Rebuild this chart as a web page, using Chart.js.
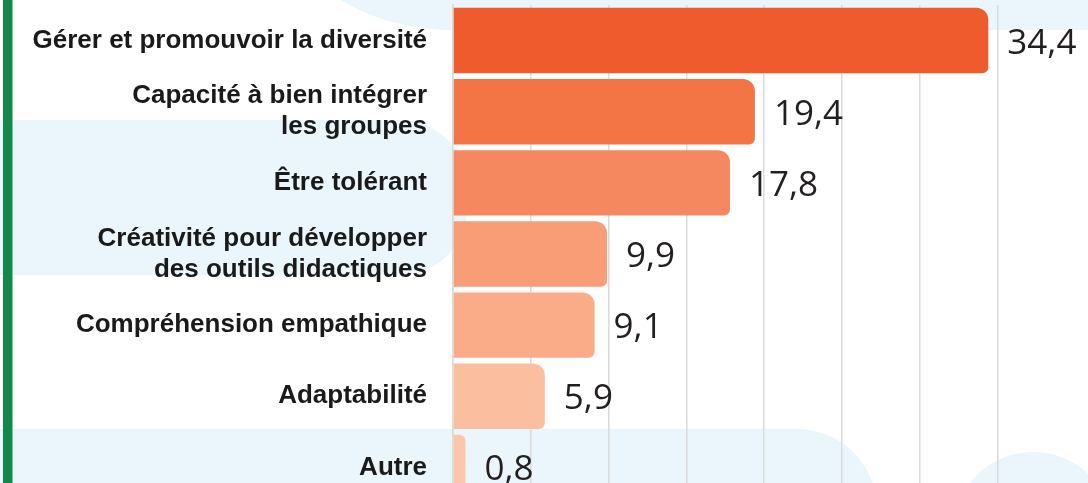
<!DOCTYPE html>
<html>
<head>
<meta charset="utf-8">
<script src="https://cdn.jsdelivr.net/npm/chart.js@4/dist/chart.umd.min.js"></script>
<style>
  html, body { margin: 0; padding: 0; overflow: hidden; background: #fff; }
  #wrap { width: 1091px; height: 503px; }
</style>
</head>
<body>
<div id="wrap"><canvas id="chart"></canvas></div>
<script>
const labels = [
  "Gérer et promouvoir la diversité",
  ["Capacité à bien intégrer", "les groupes"],
  "Être tolérant",
  ["Créativité pour développer", "des outils didactiques"],
  "Compréhension empathique",
  "Adaptabilité",
  "Autre"
];
const values = [34.4, 19.4, 17.8, 9.9, 9.1, 5.9, 0.8];
const barColors = ["#F05B2D", "#F37546", "#F5885E", "#F89D76", "#F9AC87", "#FBBE9E", "#FCC6A9"];

const LIGHT = "#EAF6FB";

// decorative background + green rule
const backdrop = {
  id: "backdrop",
  beforeDraw(chart) {
    const ctx = chart.ctx;
    ctx.save();
    ctx.fillStyle = "#fff";
    ctx.fillRect(0, 0, chart.width, chart.height);
    ctx.fillStyle = LIGHT;
    ctx.beginPath();
    ctx.roundRect(234, -400, 900, 430, [0, 0, 0, 216]);
    ctx.fill();
    ctx.beginPath();
    ctx.roundRect(-50, 120, 517, 155, [0, 67, 67, 0]);
    ctx.fill();
    ctx.beginPath();
    ctx.roundRect(-50, 429, 927, 300, [0, 80, 0, 0]);
    ctx.fill();
    ctx.beginPath();
    ctx.arc(1033, 532, 80, 0, Math.PI * 2);
    ctx.fill();
    ctx.fillStyle = "#12894A";
    ctx.fillRect(3, 0, 9.5, chart.height);
    ctx.restore();
  }
};

const valueLabels = {
  id: "valueLabels",
  afterDatasetsDraw(chart) {
    const ctx = chart.ctx;
    const meta = chart.getDatasetMeta(0);
    ctx.save();
    ctx.font = "35px 'Open Sans'";
    ctx.fillStyle = "#231F20";
    ctx.textAlign = "left";
    ctx.textBaseline = "middle";
    meta.data.forEach((bar, i) => {
      const txt = values[i].toFixed(1).replace(".", ",");
      ctx.fillText(txt, bar.x + 19, bar.y + 3);
    });
    ctx.restore();
  }
};

new Chart(document.getElementById("chart"), {
  type: "bar",
  data: {
    labels: labels,
    datasets: [{
      data: values,
      backgroundColor: barColors,
      borderRadius: { topRight: 12, bottomRight: 6 },
      borderSkipped: "start",
      barPercentage: 0.92,
      categoryPercentage: 1
    }]
  },
  options: {
    indexAxis: "y",
    responsive: true,
    maintainAspectRatio: false,
    animation: false,
    layout: { padding: { top: 5, left: 0, right: 0, bottom: 0 } },
    plugins: {
      legend: { display: false },
      tooltip: { enabled: false }
    },
    scales: {
      x: {
        min: 0,
        max: 41,
        ticks: { display: false, stepSize: 5 },
        grid: { color: "#DADADA", lineWidth: 1.5, drawTicks: false },
        border: { display: false }
      },
      y: {
        afterFit(scale) {
          scale.width = 453;
          scale.paddingTop = 0;
          scale.paddingBottom = 0;
        },
        ticks: {
          color: "#1A1A1A",
          padding: 26,
          font: { family: "'Liberation Sans', Arial, sans-serif", size: 26, weight: "bold", lineHeight: 1.2 }
        },
        grid: { display: false, drawTicks: false },
        border: { display: true, color: "#DADADA", width: 1.5 }
      }
    }
  },
  plugins: [backdrop, valueLabels]
});
</script>
</body>
</html>
